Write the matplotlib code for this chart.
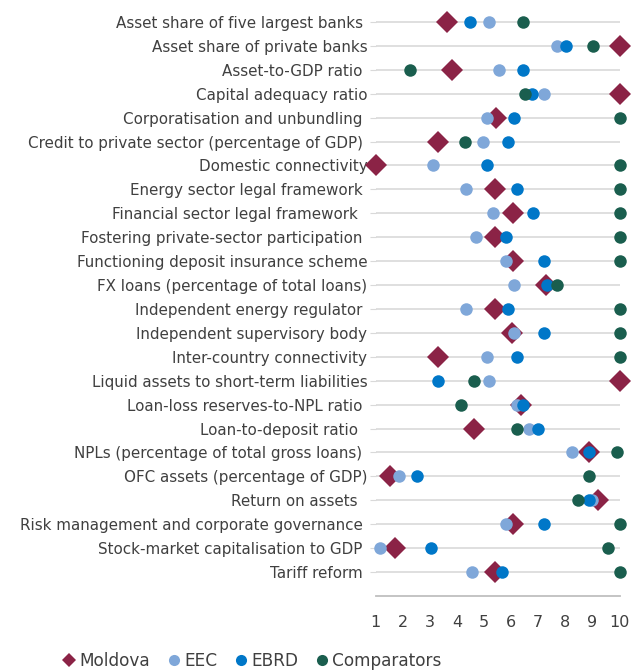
import matplotlib
matplotlib.use("Agg")
import matplotlib.pyplot as plt
from matplotlib.lines import Line2D

categories = [
    "Asset share of five largest banks ",
    "Asset share of private banks",
    "Asset-to-GDP ratio ",
    "Capital adequacy ratio",
    "Corporatisation and unbundling ",
    "Credit to private sector (percentage of GDP) ",
    "Domestic connectivity",
    "Energy sector legal framework ",
    "Financial sector legal framework  ",
    "Fostering private-sector participation ",
    "Functioning deposit insurance scheme",
    "FX loans (percentage of total loans)",
    "Independent energy regulator ",
    "Independent supervisory body",
    "Inter-country connectivity",
    "Liquid assets to short-term liabilities",
    "Loan-loss reserves-to-NPL ratio ",
    "Loan-to-deposit ratio  ",
    "NPLs (percentage of total gross loans) ",
    "OFC assets (percentage of GDP)",
    "Return on assets  ",
    "Risk management and corporate governance ",
    "Stock-market capitalisation to GDP ",
    "Tariff reform ",
]

moldova = [3.62, 10.0, 3.83, 10.0, 5.44, 3.29, 1.0, 5.42, 6.06, 5.40, 6.08, 7.29,
           5.40, 6.04, 3.29, 10.0, 6.35, 4.64, 8.89, 1.53, 9.19, 6.06, 1.71, 5.40]
eec = [5.19, 7.70, 5.56, 7.22, 5.10, 4.95, 3.13, 4.32, 5.34, 4.70, 5.80, 6.12,
       4.32, 6.12, 5.10, 5.18, 6.20, 6.67, 8.26, 1.87, 8.97, 5.80, 1.16, 4.54]
ebrd = [4.48, 8.02, 6.45, 6.76, 6.12, 5.90, 5.10, 6.20, 6.82, 5.80, 7.22, 7.31,
        5.90, 7.22, 6.20, 3.29, 6.45, 7.00, 8.89, 2.51, 8.89, 7.22, 3.04, 5.65]
comparators = [6.43, 9.03, 2.27, 6.52, 10.0, 4.31, 10.0, 10.0, 10.0, 10.0, 10.0, 7.70,
               10.0, 10.0, 10.0, 4.64, 4.15, 6.20, 9.90, 8.86, 8.48, 10.0, 9.59, 10.0]

series_names = ["Moldova", "EEC", "EBRD", "Comparators"]
x_ticks = [1, 2, 3, 4, 5, 6, 7, 8, 9, 10]

c_mol = "#8B2346"
c_eec = "#7FA7D9"
c_ebrd = "#0077C8"
c_comp = "#1A5E4E"

plt.rcParams["font.family"] = ["DejaVu Sans"]

fig = plt.figure(figsize=(6.37, 6.70), dpi=100)
ax = fig.add_axes([375.7 / 637, 74 / 670, (619.5 - 375.7) / 637, (596 - 10) / 670])

n = len(categories)
ys = [n - i for i in range(n)]

for y in ys:
    ax.axhline(y, color="#D9D9D9", lw=1.2, zorder=1)

kw = dict(linestyle="none", clip_on=False, markeredgewidth=0)
ax.plot(moldova, ys, marker="D", ms=11, color=c_mol, zorder=3, **kw)
ax.plot(eec, ys, marker="o", ms=9, color=c_eec, zorder=4, **kw)
ax.plot(ebrd, ys, marker="o", ms=9, color=c_ebrd, zorder=5, **kw)
ax.plot(comparators, ys, marker="o", ms=9, color=c_comp, zorder=6, **kw)

ax.set_xlim(1, 10)
ax.set_ylim(0, n + 0.5)
ax.set_xticks(x_ticks)
ax.set_xticklabels([str(t) for t in x_ticks], fontsize=11.5, color="#404040")
ax.set_yticks(ys)
ax.set_yticklabels(categories, fontsize=10.9, color="#404040")

for s in ["top", "right", "left"]:
    ax.spines[s].set_visible(False)
ax.spines["bottom"].set_color("#BFBFBF")
ax.spines["bottom"].set_linewidth(1.3)
ax.tick_params(axis="x", length=0, pad=14)
ax.tick_params(axis="y", length=4, color="#D9D9D9", pad=2)

handles = [
    Line2D([], [], marker="D", ms=7, color=c_mol, linestyle="none", markeredgewidth=0),
    Line2D([], [], marker="o", ms=8, color=c_eec, linestyle="none", markeredgewidth=0),
    Line2D([], [], marker="o", ms=8, color=c_ebrd, linestyle="none", markeredgewidth=0),
    Line2D([], [], marker="o", ms=8, color=c_comp, linestyle="none", markeredgewidth=0),
]
fig.legend(handles, series_names, loc="center", bbox_to_anchor=(0.394, 0.014),
           ncol=4, frameon=False, fontsize=12.2, handletextpad=0.1,
           columnspacing=0.9, handlelength=1.0, labelcolor="#404040")

fig.savefig("out.png", dpi=100)
